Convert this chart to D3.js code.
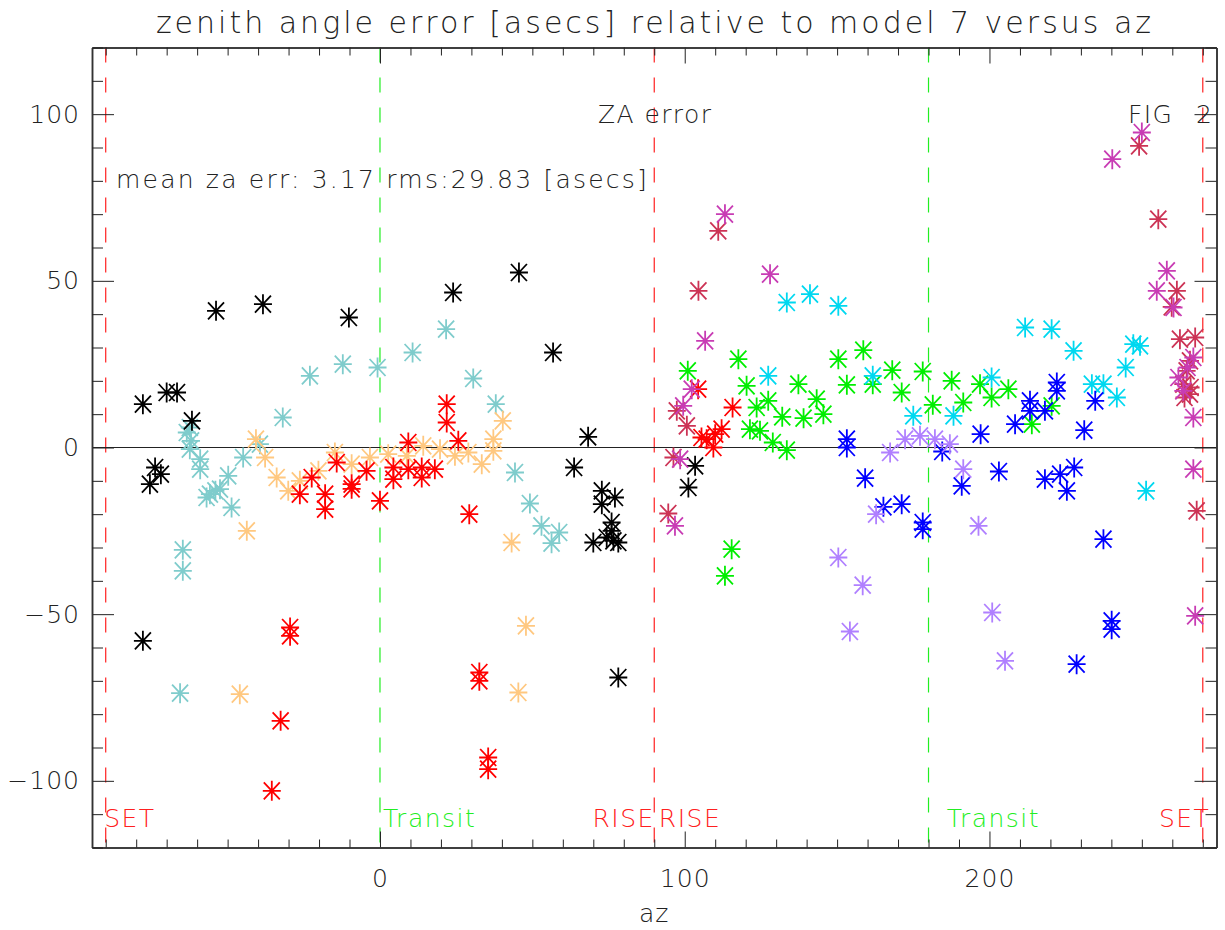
<!DOCTYPE html>
<html>
<head>
<meta charset="utf-8">
<script src="https://cdn.jsdelivr.net/npm/d3@7"></script>
<style>
  body { margin: 0; background: #fff; }
  svg text { font-family: "DejaVu Sans", sans-serif; font-weight: 200; }
</style>
</head>
<body>
<div id="chart"></div>
<script>
// az / za error points, one array per colour group
var blackPts = [[-77.8,-58],[-77.8,13],[-75.5,-11],[-73.8,-6],[-71.9,-8],[-70,16.5],[-66.6,16.5],[-61.7,8],
  [-53.8,41],[-38.4,43],[-10.2,39],[24,46.5],[45.6,52.5],[56.8,28.5],[68.3,3.2],[63.7,-6],[72.8,-13],[72.8,-17],
  [77.1,-15],[76,-22.5],[76,-25],[70,-28.5],[74.4,-27],[76.6,-28],[78.2,-28.5],[78.2,-69],[103.4,-5.5],[101.2,-12]];
var tealPts = [[-64.7,-30.7],[-64.7,-37],[-65.6,-73.7],[-62.4,6],[-63.4,4.5],[-62,2],[-62.4,-0.5],[-59,-3.5],
  [-59,-6.5],[-55.8,-14],[-54,-13],[-52.5,-12.5],[-56.9,-15],[-49.8,-8.5],[-48.7,-18],[-44.9,-3],[-39.4,1],
  [-31.9,9],[-23,21.5],[-12.2,25],[-0.8,24],[10.7,28.5],[21.7,35.5],[30.6,20.7],[38,13],[44.3,-7.5],
  [49.2,-16.8],[53,-23.5],[58.8,-25.5],[56.3,-28.7]];
var orangePts = [[-46,-74],[-43.7,-25],[-40.7,2.5],[-37.7,-3],[-33.9,-9],[-30.1,-13],[-26.3,-10],[-20.2,-7],
  [-14.8,-1.5],[-9.3,-5],[-3.3,-3],[2.7,-2],[8.8,-2.5],[14.2,0.5],[19.7,-0.5],[24.6,-2.5],[29,-1.5],[33.4,-5],
  [37.2,2.5],[37.2,-1],[40.3,8],[43.2,-28.5],[47.9,-53.5],[45.4,-73.5]];
var redPts = [[-35.5,-103],[-32.6,-82],[-29.5,-54],[-29.5,-56.5],[-26.3,-14],[-22.4,-9],[-18,-14],[-18,-18.5],
  [-14.2,-4.5],[-9.3,-11],[-9.3,-12.4],[-4.4,-7],[0,-16],[4.4,-6],[4.4,-9.5],[9.3,1.5],[9.3,-6.5],[13.7,-6],
  [13.7,-9],[18,-6.5],[21.9,13],[21.9,7.5],[25.7,2],[29.3,-20],[32.6,-67.5],[32.6,-70],[35.5,-93],[35.5,-96.5],
  [104.4,17.5],[115.7,12],[112.1,5.5],[107.2,2.5],[109.4,0],[110,4],[105.5,3]];
var crimsonPts = [[111,65],[104.5,47],[97.4,11],[100.7,6.5],[96.3,-3],[94.6,-19.8],[249.1,90.5],[255.4,68.5],
  [261.5,47],[259.8,42.2],[262.5,32.5],[267.5,33],[265.8,26],[264.7,23],[263.6,19],[265.8,16],[268,-19],
  [266,18],[264,15]];
var magentaPts = [[113.2,70],[128,52],[106.7,32],[102.3,17.5],[99.5,12.5],[98.5,-3.5],[96.8,-23.5],[250,94.5],
  [240.3,86.5],[258.2,53],[254.9,47],[260.4,42],[262,21],[263.6,17],[266.9,27],[266.9,9],[266.9,-6.5],
  [267.5,-50.5],[265,24]];
var greenPts = [[101,23],[117.6,26.5],[120.3,18.5],[123.6,12],[127.4,14],[132,9.2],[137.3,19],[139,8.8],
  [143.3,14.5],[145.5,10],[150.4,26.5],[153.2,18.8],[158.6,29.2],[161.7,19],[168.1,23.2],[171.2,16.5],
  [178.1,22.8],[181.4,12.8],[121.4,5.5],[124.7,5],[128.9,1.5],[133.5,-0.8],[115.4,-30.5],[113.2,-38.5],
  [187.6,20],[191.4,13.5],[196.9,19],[200.7,15],[206.2,17.5],[213.9,7],[220.4,12.5]];
var cyanPts = [[133.5,43.5],[141.1,46],[150.4,42.5],[127.4,21.5],[161.7,21.5],[175,9.5],[188.2,9.5],[211.7,36],
  [220.4,35.5],[227.6,29],[200.7,21],[233.6,19],[237.4,19],[241.8,15],[244.7,24],[247.2,31],[249.4,30.5],
  [251.4,-13]];
var bluePts = [[153.2,2.5],[153.2,0],[159.2,-9.2],[165.2,-17.8],[171.2,-17],[178.1,-22.5],[178.1,-24.5],
  [184.5,-1.2],[197.1,4],[208.4,7],[213.3,14],[213.3,11],[218.2,11],[222.1,19.5],[222.1,17],[231.1,5.2],
  [234.7,14],[190.9,-11.5],[203.1,-7.2],[218.2,-9.5],[223.2,-8],[225.4,-13],[227.8,-6],[237.4,-27.5],
  [240.1,-52],[240.1,-54.5],[228.6,-65]];
var lavenderPts = [[150.4,-33],[158.4,-41.3],[154.2,-55.2],[162.8,-20],[200.9,-49.5],[205.1,-64],[167.4,-1.5],
  [172.3,2.5],[177.2,3.5],[182.1,2.5],[187,1],[191.4,-6.5],[196.4,-23.5]];

var groups = [
  { pts: tealPts, color: "#7fcccc" },
  { pts: orangePts, color: "#ffc880" },
  { pts: redPts, color: "#ff0000" },
  { pts: blackPts, color: "#000000" },
  { pts: crimsonPts, color: "#cc3355" },
  { pts: magentaPts, color: "#c83cb4" },
  { pts: greenPts, color: "#00ee00" },
  { pts: cyanPts, color: "#00d8f0" },
  { pts: bluePts, color: "#0000ff" },
  { pts: lavenderPts, color: "#b080ff" }
];

var redLines = [-90, 90, 270];
var greenLines = [0, 180];
var xMajor = [0, 100, 200];
var yMajor = [-100, -50, 0, 50, 100];

var width = 1225, height = 930;
var svg = d3.select("#chart").append("svg")
    .attr("width", width)
    .attr("height", height);

var x = d3.scaleLinear().domain([-94.5, 274.5]).range([92, 1216.5]);
var y = d3.scaleLinear().domain([-120, 120]).range([847.5, 47.5]);

var xMinor = d3.range(-90, 275, 10).filter(function (d) { return xMajor.indexOf(d) < 0; });
var yMinor = d3.range(-120, 121, 10).filter(function (d) { return yMajor.indexOf(d) < 0; });

// dashed reference lines
svg.selectAll(".redline").data(redLines).enter().append("line")
    .attr("x1", function (d) { return x(d); }).attr("x2", function (d) { return x(d); })
    .attr("y1", y(120)).attr("y2", y(-120))
    .attr("stroke", "#ff2020").attr("stroke-width", 1.2)
    .attr("stroke-dasharray", "15,15");
svg.selectAll(".greenline").data(greenLines).enter().append("line")
    .attr("x1", function (d) { return x(d); }).attr("x2", function (d) { return x(d); })
    .attr("y1", y(120)).attr("y2", y(-120))
    .attr("stroke", "#22ee22").attr("stroke-width", 1.2)
    .attr("stroke-dasharray", "15,15");

// zero line
svg.append("line")
    .attr("x1", x(-94.5)).attr("x2", x(274.5))
    .attr("y1", y(0)).attr("y2", y(0))
    .attr("stroke", "#222").attr("stroke-width", 1.2);

// axes, ticks pointing inward
function styleAxis(g) {
    g.select(".domain").attr("stroke", "#333").attr("stroke-width", 1.5);
    g.selectAll(".tick line").attr("stroke", "#222");
    g.selectAll("text").attr("fill", "#222").style("font-size", "25px")
        .style("font-family", "'DejaVu Sans', sans-serif").style("font-weight", 200)
        .style("letter-spacing", "1px");
}

svg.append("g").attr("transform", "translate(0," + y(-120) + ")")
    .call(d3.axisBottom(x).tickValues(xMajor).tickSize(-16).tickPadding(22).tickSizeOuter(0))
    .call(styleAxis);
svg.append("g").attr("transform", "translate(0," + y(-120) + ")")
    .call(d3.axisBottom(x).tickValues(xMinor).tickSize(-8).tickFormat("").tickSizeOuter(0))
    .call(styleAxis);
svg.append("g").attr("transform", "translate(0," + y(120) + ")")
    .call(d3.axisTop(x).tickValues(xMajor).tickSize(-16).tickFormat("").tickSizeOuter(0))
    .call(styleAxis);
svg.append("g").attr("transform", "translate(0," + y(120) + ")")
    .call(d3.axisTop(x).tickValues(xMinor).tickSize(-8).tickFormat("").tickSizeOuter(0))
    .call(styleAxis);

svg.append("g").attr("transform", "translate(" + x(-94.5) + ",0)")
    .call(d3.axisLeft(y).tickValues(yMajor).tickSize(-22).tickPadding(12).tickSizeOuter(0))
    .call(styleAxis);
svg.append("g").attr("transform", "translate(" + x(-94.5) + ",0)")
    .call(d3.axisLeft(y).tickValues(yMinor).tickSize(-11).tickFormat("").tickSizeOuter(0))
    .call(styleAxis);
svg.append("g").attr("transform", "translate(" + x(274.5) + ",0)")
    .call(d3.axisRight(y).tickValues(yMajor).tickSize(-22).tickFormat("").tickSizeOuter(0))
    .call(styleAxis);
svg.append("g").attr("transform", "translate(" + x(274.5) + ",0)")
    .call(d3.axisRight(y).tickValues(yMinor).tickSize(-11).tickFormat("").tickSizeOuter(0))
    .call(styleAxis);

// asterisk markers (4 strokes)
var starPath = "M-9,0L9,0M0,-10L0,10M-8,-8.5L8,8.5M-8,8.5L8,-8.5";
groups.forEach(function (grp) {
    svg.append("g").selectAll("path").data(grp.pts).enter().append("path")
        .attr("transform", function (d) { return "translate(" + x(d[0]) + "," + y(d[1]) + ")"; })
        .attr("d", starPath)
        .attr("fill", "none")
        .attr("stroke", grp.color)
        .attr("stroke-width", 1.8);
});

// titles and annotations
svg.append("text").attr("x", 655).attr("y", 33).attr("text-anchor", "middle")
    .style("font-size", "30px").style("letter-spacing", "3px").attr("fill", "#222")
    .text("zenith angle error [asecs] relative to model 7 versus az");
svg.append("text").attr("x", x(90)).attr("y", 922).attr("text-anchor", "middle")
    .style("font-size", "25px").style("letter-spacing", "1px").attr("fill", "#222").text("az");

svg.append("text").attr("x", 598).attr("y", 123)
    .style("font-size", "25px").style("letter-spacing", "1.4px").attr("fill", "#222").text("ZA error");
svg.append("text").attr("x", 1128).attr("y", 123)
    .style("font-size", "25px").style("letter-spacing", "1.4px").attr("fill", "#222").text("FIG");
svg.append("text").attr("x", 1196).attr("y", 123)
    .style("font-size", "25px").attr("fill", "#222").text("2");
svg.append("text").attr("x", 116).attr("y", 188)
    .style("font-size", "25px").style("letter-spacing", "2.2px").attr("fill", "#222")
    .text("mean za err: 3.17 rms:29.83 [asecs]");

var labels = [
    { t: "SET", az: -90.5, anchor: "start", c: "#ff2020" },
    { t: "Transit", az: 1, anchor: "start", c: "#22ee22" },
    { t: "RISE", az: 90.2, anchor: "end", c: "#ff2020" },
    { t: "RISE", az: 91.5, anchor: "start", c: "#ff2020" },
    { t: "Transit", az: 186, anchor: "start", c: "#22ee22" },
    { t: "SET", az: 272.5, anchor: "end", c: "#ff2020" }
];
svg.selectAll(".lbl").data(labels).enter().append("text")
    .attr("x", function (d) { return x(d.az); }).attr("y", 827)
    .attr("text-anchor", function (d) { return d.anchor; })
    .style("font-size", "25px").style("letter-spacing", "1.5px")
    .attr("fill", function (d) { return d.c; })
    .text(function (d) { return d.t; });
</script>
</body>
</html>
